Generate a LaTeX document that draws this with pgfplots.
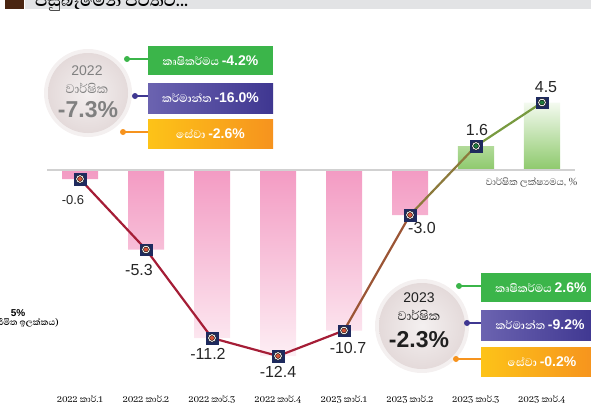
\documentclass[border=0pt]{standalone}
\usepackage{pgfplots}
\pgfplotsset{compat=1.18}
\usepackage{fontspec}
\setmainfont{Liberation Sans}
\newfontfamily\sinfont[Script=Sinhala]{Abhaya Libre}
\definecolor{pinkA}{HTML}{F39BC3}
\definecolor{pinkB}{HTML}{FDEEF4}
\definecolor{greenA}{HTML}{8DC96B}
\definecolor{greenB}{HTML}{F4FAF0}
\definecolor{navy}{HTML}{1E2A5E}
\definecolor{redDot}{HTML}{D2553A}
\definecolor{greenDot}{HTML}{1C7A3C}
\definecolor{lineRed}{HTML}{A51D36}
\definecolor{lineBrown}{HTML}{9B5535}
\definecolor{lineOlive}{HTML}{8C7A3C}
\definecolor{lineGreen}{HTML}{789A40}
\definecolor{boxGreen}{HTML}{3BB54A}
\definecolor{boxPurpleL}{HTML}{6B63B0}
\definecolor{boxPurpleR}{HTML}{3F3791}
\definecolor{boxOrangeL}{HTML}{FDC318}
\definecolor{boxOrangeR}{HTML}{F6931E}
\definecolor{bandGray}{HTML}{E2E3E5}
\definecolor{bandBrown}{HTML}{4A2511}
\definecolor{circOut}{HTML}{F4F0F0}
\definecolor{circIn}{HTML}{E4DADA}
\begin{document}
\begin{tikzpicture}
\path[use as bounding box] (0,0) rectangle (591pt,-418pt);
\begin{axis}[at={(47pt,-393pt)}, anchor=south west, scale only axis,
  width=528pt, height=313pt, xmin=-0.5, xmax=7.5, ymin=-14.8667, ymax=6,
  enlargelimits=false, clip=false,
  axis line style={draw=none}, ytick=\empty, xtick={0,...,7},
  major tick length=0pt,
  xticklabels={2022 කාර්.1,2022 කාර්.2,2022 කාර්.3,2022 කාර්.4,2023 කාර්.1,2023 කාර්.2,2023 කාර්.3,2023 කාර්.4},
  xticklabel style={font=\sinfont\fontsize{11}{11}\selectfont, inner sep=2pt}]
\addplot[ybar, bar width=36pt, bar shift=0pt, draw=none, shade, top color=pinkA, bottom color=pinkB]
  coordinates {(0,-0.6)(1,-5.3)(2,-11.2)(3,-12.4)(4,-10.7)(5,-3.0)};
\addplot[ybar, bar width=36pt, bar shift=0pt, draw=none, shade, top color=greenB, bottom color=greenA]
  coordinates {(6,1.6)(7,4.5)};
\draw[black!18, line width=2pt] (axis cs:-0.5,0) -- (axis cs:7.5,0);
\addplot[lineRed, line width=2.2pt] coordinates {(0,-0.6)(1,-5.3)(2,-11.2)(3,-12.4)(4,-10.7)};
\addplot[lineBrown, line width=2.2pt] coordinates {(4,-10.7)(5,-3.0)};
\addplot[lineOlive, line width=2.2pt] coordinates {(5,-3.0)(6,1.6)};
\addplot[lineGreen, line width=2.2pt] coordinates {(6,1.6)(7,4.5)};
\addplot[only marks, mark=square*, mark size=5.8pt, mark options={fill=navy, draw=navy}]
  coordinates {(0,-0.6)(1,-5.3)(2,-11.2)(3,-12.4)(4,-10.7)(5,-3.0)(6,1.6)(7,4.5)};
\addplot[only marks, mark=*, mark size=4.2pt, mark options={fill=white, draw=none}]
  coordinates {(0,-0.6)(1,-5.3)(2,-11.2)(3,-12.4)(4,-10.7)(5,-3.0)(6,1.6)(7,4.5)};
\addplot[only marks, mark=*, mark size=2.5pt, mark options={fill=redDot, draw=none}]
  coordinates {(0,-0.6)(1,-5.3)(2,-11.2)(3,-12.4)(4,-10.7)(5,-3.0)};
\addplot[only marks, mark=*, mark size=2.5pt, mark options={fill=greenDot, draw=none}]
  coordinates {(6,1.6)(7,4.5)};
\begin{scope}[every node/.style={font=\fontsize{16}{16}\selectfont, text=black!85, inner sep=0pt}]
\node[font=\fontsize{13}{13}\selectfont] at (axis cs:0,-0.6) [xshift=-7pt, yshift=-21pt] {-0.6};
\node at (axis cs:1,-5.3) [xshift=-7pt, yshift=-20pt] {-5.3};
\node at (axis cs:2,-11.2) [xshift=-4pt, yshift=-16pt] {-11.2};
\node at (axis cs:3,-12.4) [xshift=0pt, yshift=-16pt] {-12.4};
\node at (axis cs:4,-10.7) [xshift=4pt, yshift=-17pt] {-10.7};
\node at (axis cs:5,-3.0) [xshift=12pt, yshift=-13pt] {-3.0};
\node at (axis cs:6,1.6) [xshift=1pt, yshift=16pt] {1.6};
\node at (axis cs:7,4.5) [xshift=4pt, yshift=15pt] {4.5};
\end{scope}
\end{axis}
\begin{scope}[x=1pt, y=-1pt]
% title strip
\fill[bandGray] (25,0) rectangle (591,8.5);
\fill[bandBrown] (5,0) rectangle (24,9);
\node[anchor=base west, inner sep=0, font=\sinfont\bfseries\fontsize{21}{21}\selectfont] at (35,6) {පසුබෑමෙන් පිටතට...};
% axis note
\node[anchor=east, inner sep=0, text=black!70, font=\sinfont\fontsize{12}{12}\selectfont] at (578,182) {වාර්ෂික ලක්ෂ්‍යමය, \%};
% left remnant
\node[anchor=center, inner sep=0, font=\bfseries\fontsize{10}{10}\selectfont] at (18,313) {5\%};
\node[anchor=east, inner sep=0, font=\sinfont\bfseries\fontsize{11}{11}\selectfont] at (59,323) {(සීමිත ඉලක්කය)};
% 2022 panel
\fill[circOut] (88,93) circle (44);
\shade[inner color=circOut, outer color=circIn] (88,93) circle (40);
\node[text=black!50, font=\fontsize{14}{14}\selectfont, inner sep=0] at (87,71) {2022};
\node[text=black!50, font=\sinfont\fontsize{16}{16}\selectfont, inner sep=0] at (87,88) {වාර්ෂික};
\node[text=black!50, font=\bfseries\fontsize{23}{23}\selectfont, inner sep=0] at (88,110) {-7.3\%};
\draw[boxGreen, line width=1.6pt] (127,59) -- (148,59);
\fill[boxGreen] (127,59) circle (3);
\draw[boxPurpleR, line width=1.6pt] (135,96) -- (148,96);
\fill[boxPurpleR] (135,96) circle (3);
\draw[boxOrangeR, line width=1.6pt] (123,132) -- (148,132);
\fill[boxOrangeR] (123,132) circle (3);
\fill[boxGreen] (148,46) rectangle (273,75);
\shade[left color=boxPurpleL, right color=boxPurpleR] (148,83) rectangle (273,113);
\shade[left color=boxOrangeL, right color=boxOrangeR] (148,119) rectangle (273,148);
\node[text=white, inner sep=0] at (210.5,61) {{\sinfont\bfseries\fontsize{14}{14}\selectfont කෘෂිකර්මය}~{\bfseries\fontsize{14}{14}\selectfont -4.2\%}};
\node[text=white, inner sep=0] at (210.5,98) {{\sinfont\bfseries\fontsize{14}{14}\selectfont කර්මාන්ත}~{\bfseries\fontsize{14}{14}\selectfont -16.0\%}};
\node[text=white, inner sep=0] at (210.5,134) {{\sinfont\bfseries\fontsize{14}{14}\selectfont සේවා}~{\bfseries\fontsize{14}{14}\selectfont -2.6\%}};
% 2023 panel
\fill[circOut] (422,326) circle (47);
\shade[inner color=circOut, outer color=circIn] (422,326) circle (43);
\node[text=black!88, font=\fontsize{14}{14}\selectfont, inner sep=0] at (419,298) {2023};
\node[text=black!88, font=\sinfont\fontsize{16}{16}\selectfont, inner sep=0] at (419,315) {වාර්ෂික};
\node[text=black!88, font=\bfseries\fontsize{23}{23}\selectfont, inner sep=0] at (419,340) {-2.3\%};
\draw[boxGreen, line width=1.6pt] (459,286) -- (481,286);
\fill[boxGreen] (459,286) circle (3);
\draw[boxPurpleR, line width=1.6pt] (467,323) -- (481,323);
\fill[boxPurpleR] (467,323) circle (3);
\draw[boxOrangeR, line width=1.6pt] (456,359) -- (481,359);
\fill[boxOrangeR] (456,359) circle (3);
\fill[boxGreen] (481,273) rectangle (595,302);
\shade[left color=boxPurpleL, right color=boxPurpleR] (481,310) rectangle (595,340);
\shade[left color=boxOrangeL, right color=boxOrangeR] (481,347) rectangle (595,376);
\node[text=white, inner sep=0] at (541,287.5) {{\sinfont\bfseries\fontsize{14}{14}\selectfont කෘෂිකර්මය}~{\bfseries\fontsize{14}{14}\selectfont 2.6\%}};
\node[text=white, inner sep=0] at (540,325) {{\sinfont\bfseries\fontsize{14}{14}\selectfont කර්මාන්ත}~{\bfseries\fontsize{14}{14}\selectfont -9.2\%}};
\node[text=white, inner sep=0] at (542,361.5) {{\sinfont\bfseries\fontsize{14}{14}\selectfont සේවා}~{\bfseries\fontsize{14}{14}\selectfont -0.2\%}};
\end{scope}
\end{tikzpicture}
\end{document}
